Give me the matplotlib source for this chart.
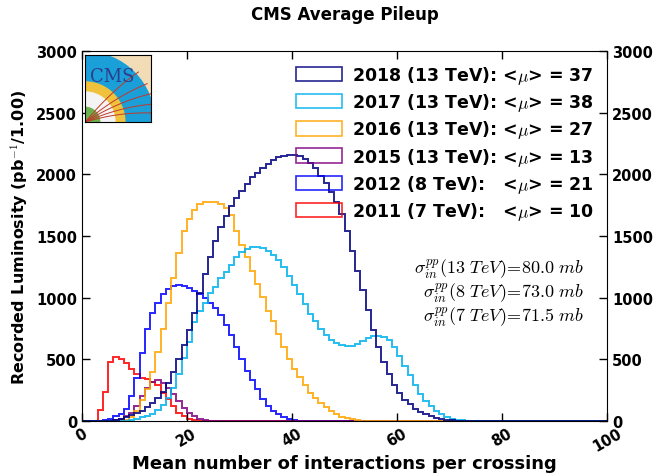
import numpy as np
import matplotlib
matplotlib.use("Agg")
import matplotlib.pyplot as plt
from matplotlib.patches import Patch, Wedge, Rectangle

plt.rcParams['font.family'] = ['DejaVu Sans']
plt.rcParams['mathtext.fontset'] = 'cm'

# ---- data: recorded luminosity per pileup bin (pb^-1 per 1.00) ----
bin_edges = np.arange(0, 101, 1)

start_2011 = 2
lumi_2011 = [5, 90, 240, 480, 520, 500, 470, 420, 380, 350, 340, 320, 290, 230,
             180, 120, 70, 40, 20, 10, 5, 2]

start_2012 = 3
lumi_2012 = [5, 10, 20, 40, 60, 100, 200, 350, 550, 750, 880, 960, 1030, 1070,
             1095, 1100, 1095, 1080, 1055, 1030, 1000, 960, 920, 860, 780, 700,
             600, 500, 410, 330, 260, 180, 125, 85, 55, 32, 18, 10, 5, 3, 1]

start_2015 = 5
lumi_2015 = [5, 10, 20, 40, 70, 120, 200, 270, 320, 330, 310, 270, 220, 160, 110,
             70, 40, 20, 10, 5]

start_2016 = 8
lumi_2016 = [10, 30, 80, 170, 260, 400, 560, 750, 960, 1160, 1360, 1540, 1640,
             1710, 1760, 1775, 1780, 1775, 1760, 1730, 1670, 1540, 1430, 1330,
             1220, 1110, 1005, 895, 810, 705, 600, 500, 420, 355, 290, 230, 190,
             150, 115, 85, 60, 35, 25, 15, 10, 5, 3, 2]

start_2017 = 8
lumi_2017 = [5, 10, 20, 30, 45, 60, 90, 130, 190, 270, 380, 510, 640, 800, 890,
             960, 1040, 1090, 1160, 1210, 1265, 1330, 1370, 1395, 1408, 1410,
             1400, 1380, 1350, 1310, 1250, 1180, 1100, 1030, 950, 870, 810, 750,
             695, 660, 635, 615, 605, 610, 625, 650, 675, 690, 690, 680, 655, 600,
             530, 450, 370, 290, 220, 165, 120, 85, 55, 35, 20, 12, 7, 4, 2, 1]

start_2018 = 5
lumi_2018 = [5, 10, 20, 35, 50, 65, 85, 115, 150, 190, 240, 310, 400, 500, 620,
             740, 880, 1040, 1190, 1330, 1460, 1570, 1660, 1740, 1810, 1865,
             1920, 1975, 2015, 2055, 2085, 2115, 2140, 2150, 2160, 2160, 2150,
             2125, 2095, 2055, 1990, 1930, 1860, 1780, 1680, 1540, 1380, 1220,
             1060, 900, 740, 600, 480, 380, 295, 230, 175, 135, 100, 75, 55, 40,
             28, 18, 12, 8, 5, 3, 2, 1]

labels = ["2018 (13 TeV): <$\\mu$> = 37",
          "2017 (13 TeV): <$\\mu$> = 38",
          "2016 (13 TeV): <$\\mu$> = 27",
          "2015 (13 TeV): <$\\mu$> = 13",
          "2012 (8 TeV):   <$\\mu$> = 21",
          "2011 (7 TeV):   <$\\mu$> = 10"]
colors = ["#000080", "#00b2ee", "#ffa500", "#800080", "#0000ff", "#ff0000"]
series = [(start_2018, lumi_2018), (start_2017, lumi_2017), (start_2016, lumi_2016),
          (start_2015, lumi_2015), (start_2012, lumi_2012), (start_2011, lumi_2011)]

xsec_text = ("$\\sigma^{pp}_{in}(13\\ TeV)\\!=\\!80.0\\ mb$\n"
             "$\\sigma^{pp}_{in}(8\\ TeV)\\!=\\!73.0\\ mb$\n"
             "$\\sigma^{pp}_{in}(7\\ TeV)\\!=\\!71.5\\ mb$")


def full(start, vals):
    arr = np.zeros(len(bin_edges) - 1)
    arr[start:start + len(vals)] = vals
    return arr


fig = plt.figure(figsize=(6.55, 4.77), dpi=100)
ax = fig.add_axes([0.125, 0.115, 0.802, 0.776])

# draw from oldest to newest
for (start, vals), col in list(zip(series, colors))[::-1]:
    ax.stairs(full(start, vals), bin_edges, color=col, lw=1.4, alpha=0.85)

ax.set_xlim(0, 100)
ax.set_ylim(0, 3000)
ax.set_xticks(np.arange(0, 101, 20))
ax.set_yticks(np.arange(0, 3001, 500))
ax.tick_params(direction='in', top=True, right=True, labelright=True,
               length=6, width=1, labelsize=10.5)
ax.tick_params(axis='x', pad=3)
for tick in ax.yaxis.get_major_ticks():
    tick.label1.set_fontweight('bold')
    tick.label2.set_fontweight('bold')
for tick in ax.xaxis.get_major_ticks():
    tick.label1.set_fontweight('bold')
    tick.label1.set_rotation(30)

ax.set_xlabel("Mean number of interactions per crossing", fontsize=13,
              fontweight='bold', labelpad=0)
ax.set_ylabel("Recorded Luminosity (pb$^{-1}$/1.00)", fontsize=11.5,
              fontweight='bold', labelpad=4)
ax.set_title("CMS Average Pileup", fontsize=12, fontweight='bold', pad=23)

handles = [Patch(facecolor='none', edgecolor=c, lw=1.2, alpha=0.85) for c in colors]
leg = ax.legend(handles, labels, loc='upper right', frameon=False,
                prop={'weight': 'bold', 'size': 12.5}, handlelength=2.6,
                handleheight=0.9, labelspacing=0.3, handletextpad=0.6,
                bbox_to_anchor=(1.0, 1.0), borderaxespad=0.35)

ax.text(0.955, 0.445, xsec_text, transform=ax.transAxes, ha='right', va='top',
        fontsize=13, linespacing=1.0, multialignment='right')

# small CMS logo inset
lax = fig.add_axes([0.130, 0.742, 0.101, 0.140])
lax.set_xlim(0, 1)
lax.set_ylim(0, 1)
lax.add_patch(Rectangle((0, 0), 1, 1, color='#f2dcb6'))
lax.add_patch(Wedge((0, 0), 1.05, 0, 90, color='#1a9fd8'))
lax.add_patch(Wedge((0, 0), 0.6, 0, 90, color='#f0c23c'))
lax.add_patch(Wedge((0, 0), 0.45, 0, 90, color='#f4f4f4'))
lax.add_patch(Wedge((0, 0), 0.22, 0, 90, color='#6ab04c'))
for ang in [0.12, 0.25, 0.4, 0.55, 0.75]:
    tt = np.linspace(0, 1, 30)
    lax.plot(tt * np.cos(ang) * 1.1, tt * np.sin(ang) * 1.1 + 0.2 * tt * (1 - tt),
             color='#c0392b', lw=0.7)
lax.text(0.08, 0.62, "CMS", fontsize=13, family='DejaVu Serif', color='#2c3e8c')
lax.set_xticks([])
lax.set_yticks([])

fig.savefig("out.png", dpi=100)
